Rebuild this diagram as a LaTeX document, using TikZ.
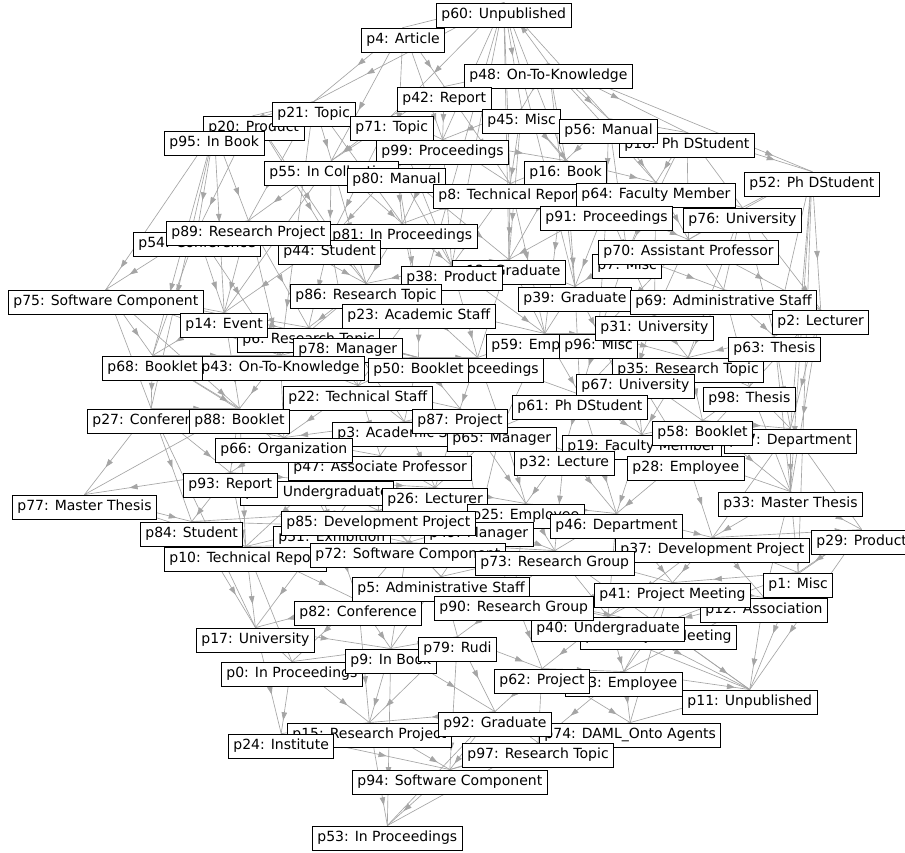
\documentclass[tikz,border=0pt]{standalone}
\usepackage{fontspec}
\setmainfont{DejaVu Sans}
\usetikzlibrary{arrows.meta,decorations.markings,backgrounds}
\definecolor{edgegray}{RGB}{165,165,165}
\tikzset{
  lbl/.style={draw=black, fill=white, line width=0.9pt, inner xsep=5pt, inner ysep=0pt,
    minimum height=24pt, font=\fontsize{14}{16}\selectfont, text=black, anchor=west},
  edge/.style={draw=edgegray, line width=0.65pt, postaction={decorate},
    decoration={markings, mark=at position #1 with {\arrow[edgegray]{Triangle[length=8pt,width=5.5pt]}}}}
}
\begin{document}
\begin{tikzpicture}[x=1pt,y=-1pt]
\useasboundingbox (0,0) rectangle (905,852);
% labelled vertices, later ones drawn on top
\node[lbl] (p60) at (436,15) {p60: Unpublished};
\node[lbl] (p4) at (361,40) {p4: Article};
\node[lbl] (p48) at (464,76) {p48: On-To-Knowledge};
\node[lbl] (p42) at (397,99) {p42: Report};
\node[lbl] (p20) at (203,128) {p20: Product};
\node[lbl] (p21) at (272,114) {p21: Topic};
\node[lbl] (p95) at (164,143) {p95: In Book};
\node[lbl] (p71) at (350,128) {p71: Topic};
\node[lbl] (p45) at (482,121) {p45: Misc};
\node[lbl] (p18) at (619,145) {p18: Ph DStudent};
\node[lbl] (p56) at (559,131) {p56: Manual};
\node[lbl] (p99) at (376,152) {p99: Proceedings};
\node[lbl] (p55) at (264,173) {p55: In Collection};
\node[lbl] (p80) at (347,180) {p80: Manual};
\node[lbl] (p16) at (524,173) {p16: Book};
\node[lbl] (p8) at (433,196) {p8: Technical Report};
\node[lbl] (p64) at (576,195) {p64: Faculty Member};
\node[lbl] (p52) at (744,184) {p52: Ph DStudent};
\node[lbl] (p91) at (540,218) {p91: Proceedings};
\node[lbl] (p76) at (683,220) {p76: University};
\node[lbl] (p54) at (133,244) {p54: Conference};
\node[lbl] (p81) at (327,236) {p81: In Proceedings};
\node[lbl] (p44) at (278,252) {p44: Student};
\node[lbl] (p89) at (166,233) {p89: Research Project};
\node[lbl] (p7) at (592,266) {p7: Misc};
\node[lbl] (p70) at (598,252) {p70: Assistant Professor};
\node[lbl] (p13) at (452,272) {p13: Graduate};
\node[lbl] (p38) at (401,278) {p38: Product};
\node[lbl] (p86) at (290,296) {p86: Research Topic};
\node[lbl] (p39) at (518,299) {p39: Graduate};
\node[lbl] (p69) at (630,302) {p69: Administrative Staff};
\node[lbl] (p75) at (8,302) {p75: Software Component};
\node[lbl] (p23) at (342,316) {p23: Academic Staff};
\node[lbl] (p6) at (237,340) {p6: Research Topic};
\node[lbl] (p14) at (180,325) {p14: Event};
\node[lbl] (p78) at (293,350) {p78: Manager};
\node[lbl] (p2) at (772,322) {p2: Lecturer};
\node[lbl] (p35) at (612,370) {p35: Research Topic};
\node[lbl] (p59) at (486,346) {p59: Employee};
\node[lbl] (p96) at (559,346) {p96: Misc};
\node[lbl] (p31) at (595,328) {p31: University};
\node[lbl] (p63) at (728,349) {p63: Thesis};
\node[lbl] (p43) at (196,368) {p43: On-To-Knowledge};
\node[lbl] (p68) at (102,368) {p68: Booklet};
\node[lbl] (p30) at (411,370) {p30: Proceedings};
\node[lbl] (p50) at (368,370) {p50: Booklet};
\node[lbl] (p67) at (576,386) {p67: University};
\node[lbl] (p98) at (703,399) {p98: Thesis};
\node[lbl] (p22) at (283,398) {p22: Technical Staff};
\node[lbl] (p61) at (512,407) {p61: Ph DStudent};
\node[lbl] (p27) at (87,421) {p27: Conference};
\node[lbl] (p88) at (189,421) {p88: Booklet};
\node[lbl] (p3) at (332,434) {p3: Academic Staff};
\node[lbl] (p65) at (447,439) {p65: Manager};
\node[lbl] (p87) at (412,421) {p87: Project};
\node[lbl] (p19) at (562,447) {p19: Faculty Member};
\node[lbl] (p57) at (724,441) {p57: Department};
\node[lbl] (p32) at (514,463) {p32: Lecture};
\node[lbl] (p28) at (627,468) {p28: Employee};
\node[lbl] (p58) at (652,433) {p58: Booklet};
\node[lbl] (p47) at (288,468) {p47: Associate Professor};
\node[lbl] (p66) at (215,450) {p66: Organization};
\node[lbl] (p36) at (240,493) {p36: Undergraduate};
\node[lbl] (p93) at (183,485) {p93: Report};
\node[lbl] (p26) at (382,500) {p26: Lecturer};
\node[lbl] (p77) at (12,507) {p77: Master Thesis};
\node[lbl] (p33) at (718,504) {p33: Master Thesis};
\node[lbl] (p25) at (467,516) {p25: Employee};
\node[lbl] (p37) at (615,550) {p37: Development Project};
\node[lbl] (p29) at (811,542) {p29: Product};
\node[lbl] (p51) at (273,538) {p51: Exhibition};
\node[lbl] (p49) at (424,534) {p49: Manager};
\node[lbl] (p85) at (281,523) {p85: Development Project};
\node[lbl] (p46) at (550,526) {p46: Department};
\node[lbl] (p84) at (140,534) {p84: Student};
\node[lbl] (p10) at (164,559) {p10: Technical Report};
\node[lbl] (p72) at (310,555) {p72: Software Component};
\node[lbl] (p73) at (475,563) {p73: Research Group};
\node[lbl] (p1) at (763,585) {p1: Misc};
\node[lbl] (p5) at (352,589) {p5: Administrative Staff};
\node[lbl] (p12) at (700,610) {p12: Association};
\node[lbl] (p41) at (594,595) {p41: Project Meeting};
\node[lbl] (p82) at (294,613) {p82: Conference};
\node[lbl] (p34) at (580,637) {p34: Project Meeting};
\node[lbl] (p40) at (531,629) {p40: Undergraduate};
\node[lbl] (p90) at (434,608) {p90: Research Group};
\node[lbl] (p17) at (196,640) {p17: University};
\node[lbl] (p0) at (221,674) {p0: In Proceedings};
\node[lbl] (p9) at (345,661) {p9: In Book};
\node[lbl] (p79) at (418,649) {p79: Rudi};
\node[lbl] (p83) at (565,684) {p83: Employee};
\node[lbl] (p62) at (494,681) {p62: Project};
\node[lbl] (p11) at (682,702) {p11: Unpublished};
\node[lbl] (p15) at (287,735) {p15: Research Project};
\node[lbl] (p74) at (539,735) {p74: DAML\_Onto Agents};
\node[lbl] (p24) at (228,746) {p24: Institute};
\node[lbl] (p92) at (438,724) {p92: Graduate};
\node[lbl] (p97) at (462,755) {p97: Research Topic};
\node[lbl] (p94) at (352,782) {p94: Software Component};
\node[lbl] (p53) at (312,838) {p53: In Proceedings};
% directed links between vertices, drawn beneath the labels
\begin{pgfonlayer}{background}
\fill[white] (0,0) rectangle (905,852);
\pgfmathsetseed{4242}
\foreach \a/\b in {
60/4, 60/21, 60/71, 60/45, 60/56, 60/16, 60/8, 60/38, 60/99, 48/60, 60/13, 60/39, 60/23,
4/21, 4/42, 4/99, 4/80, 4/55,
48/45, 48/56, 48/16, 48/64, 48/18, 42/48, 48/52, 48/39,
42/71, 42/99, 42/8, 42/55,
21/95, 21/55, 21/89, 21/81, 20/21, 21/43,
20/95, 20/44, 20/54, 20/86,
95/54, 95/14, 95/68, 95/89, 95/75, 95/27,
71/99, 71/55, 71/80, 71/44, 71/38,
45/8, 45/16, 45/99, 45/91, 45/13,
56/18, 56/64, 56/16, 56/91, 56/7,
18/52, 18/64, 18/76, 18/70, 18/7,
52/76, 52/2, 52/63, 52/70, 52/57, 52/33, 52/1,
99/80, 99/8, 99/81, 99/38, 99/16,
55/89, 55/44, 55/81, 55/86, 55/14,
80/81, 80/38, 80/44, 80/23, 80/13,
16/8, 16/64, 16/91, 16/39, 16/13, 16/59,
8/91, 8/38, 8/13, 8/59, 8/81,
64/91, 64/70, 64/7, 64/76, 64/31,
76/70, 76/69, 76/2, 76/63, 76/35,
91/7, 91/39, 91/96, 91/13, 91/70,
89/54, 89/44, 89/14, 89/86, 89/6, 89/43,
54/75, 54/14, 54/68, 54/43,
81/44, 81/38, 81/86, 81/23,
44/86, 44/14, 44/6, 44/78,
70/7, 70/69, 70/31, 70/96, 70/2,
7/39, 7/31, 7/96, 7/69,
38/13, 38/23, 38/86, 38/59, 38/30,
13/39, 13/59, 13/30,
86/23, 86/6, 86/78, 86/43,
39/59, 39/96, 39/31, 39/61,
69/2, 69/63, 69/31, 69/35, 69/98,
75/14, 75/68, 75/43, 75/27, 75/88, 75/50,
23/78, 23/50, 23/30, 23/59, 23/22,
14/6, 14/43, 14/68, 14/88,
2/63, 2/98, 2/57, 2/33,
31/96, 31/35, 31/67, 31/61,
6/78, 6/43, 6/22, 6/50,
78/50, 78/43, 78/22, 78/3,
59/96, 59/30, 59/61, 59/65,
96/35, 96/67, 96/61, 96/19,
63/35, 63/98, 63/57, 63/33,
68/43, 68/27, 68/88, 68/66,
43/22, 43/88, 43/66, 43/50,
50/30, 50/22, 50/87, 50/3,
30/87, 30/61, 30/65,
35/67, 35/98, 35/58, 35/19,
67/61, 67/19, 67/58, 67/28,
98/58, 98/57, 98/33, 98/28,
22/3, 22/66, 22/47, 22/87,
61/65, 61/32, 61/19, 61/46,
27/88, 27/93, 27/77, 27/84, 27/66, 27/17,
88/66, 88/93, 88/36, 88/10,
87/65, 87/3, 87/26, 87/25, 87/49,
3/47, 3/26, 3/65, 3/66,
65/32, 65/25, 65/26, 65/49,
19/58, 19/28, 19/32, 19/46,
58/57, 58/28, 58/33,
57/28, 57/33, 57/37, 57/29,
28/32, 28/46, 28/37, 28/33,
32/25, 32/46, 32/73,
66/47, 66/93, 66/36, 66/51,
47/36, 47/26, 47/85, 47/51,
93/36, 93/84, 93/10, 93/77,
36/85, 36/51, 36/10, 36/26,
26/85, 26/49, 26/25, 26/72,
77/84, 77/10, 77/88,
33/37, 33/29, 33/1, 33/12,
25/46, 25/49, 25/73, 25/90,
46/37, 46/73, 46/41, 46/40,
84/10, 84/17, 84/85, 84/51,
85/51, 85/72, 85/49, 85/5,
51/72, 51/10, 51/82, 51/17,
49/72, 49/73, 49/5, 49/90,
37/29, 37/41, 37/1, 37/12, 37/40,
29/1, 29/12, 29/11,
10/72, 10/17, 10/82, 10/0,
72/5, 72/82, 72/9, 72/73,
73/90, 73/40, 73/41, 73/5,
1/12, 1/41, 1/11, 1/34,
5/82, 5/90, 5/9, 5/79,
41/12, 41/40, 41/34, 41/83,
82/17, 82/9, 82/0, 82/15,
90/40, 90/79, 90/62, 90/34,
12/34, 12/11, 12/83,
40/34, 40/62, 40/83,
34/83, 34/11, 34/74,
17/0, 17/24, 17/9,
0/24, 0/15, 0/9,
9/79, 9/15, 9/92, 9/53,
79/62, 79/92, 79/15, 79/94,
62/83, 62/92, 62/74, 62/97,
83/11, 83/74, 83/97,
11/74, 90/11, 40/11, 73/11,
92/97, 92/94, 92/15, 92/53,
15/24, 15/94, 15/53,
24/94,
74/97, 74/94,
97/94, 97/53,
94/53}
{
  \pgfmathsetmacro{\mpos}{0.5+0.4*rnd}
  \draw[edge=\mpos] (p\a.north) -- (p\b.north);
}
\end{pgfonlayer}
\end{tikzpicture}
\end{document}
